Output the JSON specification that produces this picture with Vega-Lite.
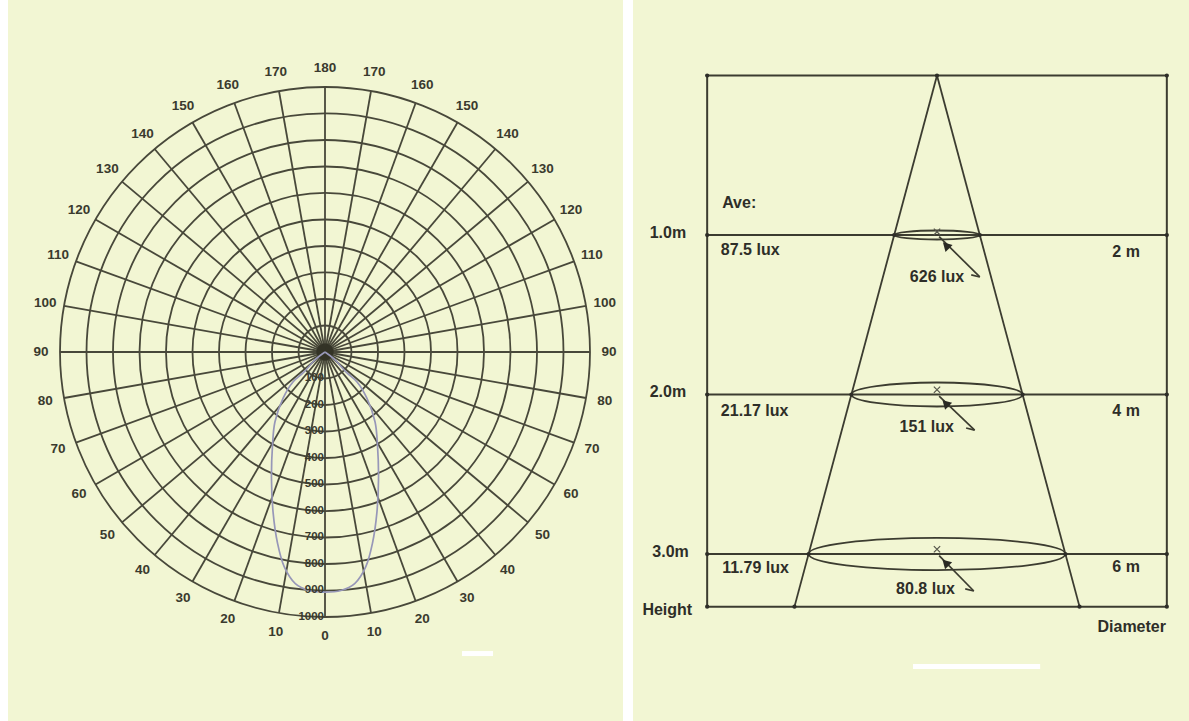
{
  "$schema": "https://vega.github.io/schema/vega-lite/v6.json",
  "background": "#ffffff",
  "padding": {"left": 8, "top": 0, "right": 0, "bottom": 0},
  "spacing": 10,
  "config": {
    "view": {"stroke": null, "fill": "#f2f6d3"},
    "text": {"font": "Liberation Sans", "fontWeight": "bold", "fill": "#2e2e28"}
  },
  "datasets": {
    "spokes": [
      {"angle": 0}, {"angle": 10}, {"angle": 20}, {"angle": 30}, {"angle": 40}, {"angle": 50},
      {"angle": 60}, {"angle": 70}, {"angle": 80}, {"angle": 90}, {"angle": 100}, {"angle": 110},
      {"angle": 120}, {"angle": 130}, {"angle": 140}, {"angle": 150}, {"angle": 160}, {"angle": 170},
      {"angle": 180}, {"angle": 190}, {"angle": 200}, {"angle": 210}, {"angle": 220}, {"angle": 230},
      {"angle": 240}, {"angle": 250}, {"angle": 260}, {"angle": 270}, {"angle": 280}, {"angle": 290},
      {"angle": 300}, {"angle": 310}, {"angle": 320}, {"angle": 330}, {"angle": 340}, {"angle": 350}
    ],
    "rings": [
      {"r": 100, "label": "100"}, {"r": 200, "label": "200"}, {"r": 300, "label": "300"},
      {"r": 400, "label": "400"}, {"r": 500, "label": "500"}, {"r": 600, "label": "600"},
      {"r": 700, "label": "700"}, {"r": 800, "label": "800"}, {"r": 900, "label": "900"},
      {"r": 1000, "label": "1000"}
    ],
    "angles": [
      {"angle": 0, "label": "180"}, {"angle": 10, "label": "170"}, {"angle": 20, "label": "160"},
      {"angle": 30, "label": "150"}, {"angle": 40, "label": "140"}, {"angle": 50, "label": "130"},
      {"angle": 60, "label": "120"}, {"angle": 70, "label": "110"}, {"angle": 80, "label": "100"},
      {"angle": 90, "label": "90"}, {"angle": 100, "label": "80"}, {"angle": 110, "label": "70"},
      {"angle": 120, "label": "60"}, {"angle": 130, "label": "50"}, {"angle": 140, "label": "40"},
      {"angle": 150, "label": "30"}, {"angle": 160, "label": "20"}, {"angle": 170, "label": "10"},
      {"angle": 180, "label": "0"}, {"angle": 190, "label": "10"}, {"angle": 200, "label": "20"},
      {"angle": 210, "label": "30"}, {"angle": 220, "label": "40"}, {"angle": 230, "label": "50"},
      {"angle": 240, "label": "60"}, {"angle": 250, "label": "70"}, {"angle": 260, "label": "80"},
      {"angle": 270, "label": "90"}, {"angle": 280, "label": "100"}, {"angle": 290, "label": "110"},
      {"angle": 300, "label": "120"}, {"angle": 310, "label": "130"}, {"angle": 320, "label": "140"},
      {"angle": 330, "label": "150"}, {"angle": 340, "label": "160"}, {"angle": 350, "label": "170"}
    ],
    "curve": [
      {"seq": 1, "cx": 0, "cy": 0}, {"seq": 2, "cx": 34, "cy": -26}, {"seq": 3, "cx": 83, "cy": -79},
      {"seq": 4, "cx": 121, "cy": -113}, {"seq": 5, "cx": 158, "cy": -174}, {"seq": 6, "cx": 189, "cy": -264},
      {"seq": 7, "cx": 198, "cy": -351}, {"seq": 8, "cx": 202, "cy": -476}, {"seq": 9, "cx": 196, "cy": -604},
      {"seq": 10, "cx": 179, "cy": -722}, {"seq": 11, "cx": 154, "cy": -810}, {"seq": 12, "cx": 112, "cy": -874},
      {"seq": 13, "cx": 60, "cy": -900}, {"seq": 14, "cx": 0, "cy": -906}, {"seq": 15, "cx": -60, "cy": -900},
      {"seq": 16, "cx": -112, "cy": -874}, {"seq": 17, "cx": -154, "cy": -810}, {"seq": 18, "cx": -179, "cy": -722},
      {"seq": 19, "cx": -196, "cy": -604}, {"seq": 20, "cx": -202, "cy": -476}, {"seq": 21, "cx": -198, "cy": -351},
      {"seq": 22, "cx": -189, "cy": -264}, {"seq": 23, "cx": -158, "cy": -174}, {"seq": 24, "cx": -121, "cy": -113},
      {"seq": 25, "cx": -83, "cy": -79}, {"seq": 26, "cx": -34, "cy": -26}, {"seq": 27, "cx": 0, "cy": 0}
    ],
    "frame": [
      {"x": -5.37, "y": 0, "x2": 5.37, "y2": 0},
      {"x": -5.37, "y": 1, "x2": 5.37, "y2": 1},
      {"x": -5.37, "y": 2, "x2": 5.37, "y2": 2},
      {"x": -5.37, "y": 3, "x2": 5.37, "y2": 3},
      {"x": -5.37, "y": 3.33, "x2": 5.37, "y2": 3.33},
      {"x": -5.37, "y": 0, "x2": -5.37, "y2": 3.33},
      {"x": 5.37, "y": 0, "x2": 5.37, "y2": 3.33}
    ],
    "cone": [
      {"x": 0, "y": 0, "x2": -3.33, "y2": 3.33},
      {"x": 0, "y": 0, "x2": 3.33, "y2": 3.33}
    ],
    "dots": [
      {"x": -5.37, "y": 0}, {"x": 5.37, "y": 0}, {"x": 0, "y": 0},
      {"x": -5.37, "y": 1}, {"x": 5.37, "y": 1}, {"x": -1, "y": 1}, {"x": 1, "y": 1},
      {"x": -5.37, "y": 2}, {"x": 5.37, "y": 2}, {"x": -2, "y": 2}, {"x": 2, "y": 2},
      {"x": -5.37, "y": 3}, {"x": 5.37, "y": 3}, {"x": -3, "y": 3}, {"x": 3, "y": 3},
      {"x": -5.37, "y": 3.33}, {"x": 5.37, "y": 3.33}, {"x": -3.33, "y": 3.33}, {"x": 3.33, "y": 3.33}
    ],
    "levels": [
      {"level": "1.0m", "centre": 0, "depth": 1, "diam": 2, "mark": 0.98, "hx": 0.21, "hy": 1.065},
      {"level": "2.0m", "centre": 0, "depth": 2, "diam": 4, "mark": 1.97, "hx": 0.2, "hy": 2.055},
      {"level": "3.0m", "centre": 0, "depth": 3, "diam": 6, "mark": 2.97, "hx": 0.2, "hy": 3.055}
    ],
    "arrows": [
      {"x": 0.05, "y": 1.01, "x2": 1.0, "y2": 1.263},
      {"x": 0.8, "y": 1.25, "x2": 1.0, "y2": 1.263},
      {"x": 0.05, "y": 2.01, "x2": 0.88, "y2": 2.223},
      {"x": 0.68, "y": 2.21, "x2": 0.88, "y2": 2.223},
      {"x": 0.05, "y": 3.01, "x2": 0.86, "y2": 3.232},
      {"x": 0.66, "y": 3.219, "x2": 0.86, "y2": 3.232}
    ],
    "labels": [
      {"text": "Ave:", "kind": "average", "x": -5.02, "y": 0.8},
      {"text": "87.5 lux", "kind": "average", "x": -5.05, "y": 1.094},
      {"text": "21.17 lux", "kind": "average", "x": -5.05, "y": 2.103},
      {"text": "11.79 lux", "kind": "average", "x": -5.02, "y": 3.088},
      {"text": "1.0m", "kind": "axis", "x": -5.86, "y": 0.987},
      {"text": "2.0m", "kind": "axis", "x": -5.86, "y": 1.984},
      {"text": "3.0m", "kind": "axis", "x": -5.8, "y": 2.987},
      {"text": "Height", "kind": "axis", "x": -5.72, "y": 3.351},
      {"text": "2 m", "kind": "axis", "x": 4.74, "y": 1.107},
      {"text": "4 m", "kind": "axis", "x": 4.74, "y": 2.103},
      {"text": "6 m", "kind": "axis", "x": 4.74, "y": 3.08},
      {"text": "Diameter", "kind": "axis", "x": 5.35, "y": 3.458},
      {"text": "626 lux", "kind": "centre", "x": 0.0, "y": 1.263},
      {"text": "151 lux", "kind": "centre", "x": -0.24, "y": 2.204},
      {"text": "80.8 lux", "kind": "centre", "x": -0.27, "y": 3.219}
    ]
  },
  "hconcat": [
    {
      "width": 615,
      "height": 721,
      "layer": [
        {
          "data": {"name": "rings"},
          "mark": {"type": "point", "shape": "circle", "filled": false, "stroke": "#48483a", "strokeWidth": 1.8, "opacity": 1},
          "encoding": {
            "x": {"datum": 0, "type": "quantitative", "scale": {"domain": [-1196.2, 1124.5], "nice": false, "zero": false}, "axis": null},
            "y": {"datum": 0, "type": "quantitative", "scale": {"domain": [-1392.5, 1328.3], "nice": false, "zero": false}, "axis": null},
            "size": {"field": "r", "type": "quantitative", "scale": {"type": "pow", "exponent": 2, "domain": [0, 1000], "range": [0, 280900]}, "legend": null}
          }
        },
        {
          "data": {"name": "spokes"},
          "mark": {"type": "point", "shape": "M0,0L0,-1", "size": 280900, "filled": false, "stroke": "#48483a", "strokeWidth": 1.8, "opacity": 1},
          "encoding": {
            "x": {"datum": 0, "type": "quantitative", "scale": {"domain": [-1196.2, 1124.5], "nice": false, "zero": false}, "axis": null},
            "y": {"datum": 0, "type": "quantitative", "scale": {"domain": [-1392.5, 1328.3], "nice": false, "zero": false}, "axis": null},
            "angle": {"field": "angle", "type": "quantitative", "scale": {"domain": [0, 360], "range": [0, 360]}, "legend": null}
          }
        },
        {
          "data": {"values": [{"cx": 0, "cy": 0}]},
          "mark": {"type": "point", "shape": "circle", "filled": true, "size": 300, "fill": "#2c2c20", "opacity": 0.75},
          "encoding": {
            "x": {"field": "cx", "type": "quantitative", "scale": {"domain": [-1196.2, 1124.5], "nice": false, "zero": false}, "axis": null},
            "y": {"field": "cy", "type": "quantitative", "scale": {"domain": [-1392.5, 1328.3], "nice": false, "zero": false}, "axis": null}
          }
        },
        {
          "data": {"name": "curve"},
          "mark": {"type": "line", "stroke": "#9797b8", "strokeWidth": 1.7, "interpolate": "catmull-rom"},
          "encoding": {
            "x": {"field": "cx", "type": "quantitative", "scale": {"domain": [-1196.2, 1124.5], "nice": false, "zero": false}, "axis": null},
            "y": {"field": "cy", "type": "quantitative", "scale": {"domain": [-1392.5, 1328.3], "nice": false, "zero": false}, "axis": null},
            "order": {"field": "seq", "type": "quantitative"}
          }
        },
        {
          "data": {"name": "rings"},
          "mark": {"type": "text", "align": "right", "baseline": "middle", "dx": -1, "fontSize": 11.5, "fill": "#3a3a2e"},
          "encoding": {
            "x": {"datum": 0, "type": "quantitative", "scale": {"domain": [-1196.2, 1124.5], "nice": false, "zero": false}, "axis": null},
            "y": {"datum": 0, "type": "quantitative", "scale": {"domain": [-1392.5, 1328.3], "nice": false, "zero": false}, "axis": null},
            "theta": {"datum": 180, "type": "quantitative", "stack": null, "scale": {"type": "linear", "domain": [0, 360], "range": [0, 6.283185307179586]}},
            "radius": {"field": "r", "type": "quantitative", "scale": {"type": "linear", "domain": [0, 1000], "range": [0, 265], "zero": true}},
            "text": {"field": "label"}
          }
        },
        {
          "data": {"name": "angles"},
          "mark": {"type": "text", "align": "center", "baseline": "middle", "fontSize": 13.5, "fill": "#3a3a2e"},
          "encoding": {
            "x": {"datum": 0, "type": "quantitative", "scale": {"domain": [-1196.2, 1124.5], "nice": false, "zero": false}, "axis": null},
            "y": {"datum": 0, "type": "quantitative", "scale": {"domain": [-1392.5, 1328.3], "nice": false, "zero": false}, "axis": null},
            "theta": {"field": "angle", "type": "quantitative", "stack": null, "scale": {"type": "linear", "domain": [0, 360], "range": [0, 6.283185307179586]}},
            "radius": {"datum": 1072, "type": "quantitative", "scale": {"type": "linear", "domain": [0, 1000], "range": [0, 265], "zero": true}},
            "text": {"field": "label"}
          }
        },
        {
          "data": {"values": [{"from": 517, "to": 634, "at": -1138}]},
          "mark": {"type": "rule", "stroke": "#ffffff", "strokeWidth": 5},
          "encoding": {
            "x": {"field": "from", "type": "quantitative", "scale": {"domain": [-1196.2, 1124.5], "nice": false, "zero": false}, "axis": null},
            "x2": {"field": "to"},
            "y": {"field": "at", "type": "quantitative", "scale": {"domain": [-1392.5, 1328.3], "nice": false, "zero": false}, "axis": null}
          }
        }
      ]
    },
    {
      "width": 556,
      "height": 721,
      "layer": [
        {
          "data": {"name": "frame"},
          "mark": {"type": "rule", "stroke": "#3c3c30", "strokeWidth": 2},
          "encoding": {
            "x": {"field": "x", "type": "quantitative", "scale": {"domain": [-7.1028, 5.8879], "nice": false, "zero": false}, "axis": null},
            "y": {"field": "y", "type": "quantitative", "scale": {"domain": [-0.4734, 4.047], "nice": false, "zero": false, "reverse": true}, "axis": null},
            "x2": {"field": "x2"}, "y2": {"field": "y2"}
          }
        },
        {
          "data": {"name": "cone"},
          "mark": {"type": "rule", "stroke": "#3c3c30", "strokeWidth": 1.8},
          "encoding": {
            "x": {"field": "x", "type": "quantitative", "scale": {"domain": [-7.1028, 5.8879], "nice": false, "zero": false}, "axis": null},
            "y": {"field": "y", "type": "quantitative", "scale": {"domain": [-0.4734, 4.047], "nice": false, "zero": false, "reverse": true}, "axis": null},
            "x2": {"field": "x2"}, "y2": {"field": "y2"}
          }
        },
        {
          "data": {"name": "levels"},
          "transform": [{"filter": "datum.level === '1.0m'"}],
          "mark": {"type": "point", "filled": false, "size": 7327, "shape": "M-1,0C-1,-0.058,-0.552,-0.105,0,-0.105C0.552,-0.105,1,-0.058,1,0C1,0.058,0.552,0.105,0,0.105C-0.552,0.105,-1,0.058,-1,0Z", "stroke": "#3c3c30", "strokeWidth": 1.8, "opacity": 1},
          "encoding": {
            "x": {"field": "centre", "type": "quantitative", "scale": {"domain": [-7.1028, 5.8879], "nice": false, "zero": false}, "axis": null},
            "y": {"field": "depth", "type": "quantitative", "scale": {"domain": [-0.4734, 4.047], "nice": false, "zero": false, "reverse": true}, "axis": null}
          }
        },
        {
          "data": {"name": "levels"},
          "transform": [{"filter": "datum.level === '2.0m'"}],
          "mark": {"type": "point", "filled": false, "size": 29310, "shape": "M-1,0C-1,-0.077,-0.552,-0.14,0,-0.14C0.552,-0.14,1,-0.077,1,0C1,0.077,0.552,0.14,0,0.14C-0.552,0.14,-1,0.077,-1,0Z", "stroke": "#3c3c30", "strokeWidth": 1.8, "opacity": 1},
          "encoding": {
            "x": {"field": "centre", "type": "quantitative", "scale": {"domain": [-7.1028, 5.8879], "nice": false, "zero": false}, "axis": null},
            "y": {"field": "depth", "type": "quantitative", "scale": {"domain": [-0.4734, 4.047], "nice": false, "zero": false, "reverse": true}, "axis": null}
          }
        },
        {
          "data": {"name": "levels"},
          "transform": [{"filter": "datum.level === '3.0m'"}],
          "mark": {"type": "point", "filled": false, "size": 65946, "shape": "M-1,0C-1,-0.069,-0.552,-0.125,0,-0.125C0.552,-0.125,1,-0.069,1,0C1,0.069,0.552,0.125,0,0.125C-0.552,0.125,-1,0.069,-1,0Z", "stroke": "#3c3c30", "strokeWidth": 1.8, "opacity": 1},
          "encoding": {
            "x": {"field": "centre", "type": "quantitative", "scale": {"domain": [-7.1028, 5.8879], "nice": false, "zero": false}, "axis": null},
            "y": {"field": "depth", "type": "quantitative", "scale": {"domain": [-0.4734, 4.047], "nice": false, "zero": false, "reverse": true}, "axis": null}
          }
        },
        {
          "data": {"name": "levels"},
          "mark": {"type": "point", "filled": false, "shape": "M-1,-1L1,1M-1,1L1,-1", "size": 40, "stroke": "#55554a", "strokeWidth": 1.2, "opacity": 1},
          "encoding": {
            "x": {"field": "centre", "type": "quantitative", "scale": {"domain": [-7.1028, 5.8879], "nice": false, "zero": false}, "axis": null},
            "y": {"field": "mark", "type": "quantitative", "scale": {"domain": [-0.4734, 4.047], "nice": false, "zero": false, "reverse": true}, "axis": null}
          }
        },
        {
          "data": {"name": "arrows"},
          "mark": {"type": "rule", "stroke": "#3c3c30", "strokeWidth": 1.7},
          "encoding": {
            "x": {"field": "x", "type": "quantitative", "scale": {"domain": [-7.1028, 5.8879], "nice": false, "zero": false}, "axis": null},
            "y": {"field": "y", "type": "quantitative", "scale": {"domain": [-0.4734, 4.047], "nice": false, "zero": false, "reverse": true}, "axis": null},
            "x2": {"field": "x2"}, "y2": {"field": "y2"}
          }
        },
        {
          "data": {"name": "levels"},
          "mark": {"type": "point", "filled": true, "shape": "triangle-up", "size": 100, "angle": 315, "fill": "#2a2a24", "opacity": 1},
          "encoding": {
            "x": {"field": "hx", "type": "quantitative", "scale": {"domain": [-7.1028, 5.8879], "nice": false, "zero": false}, "axis": null},
            "y": {"field": "hy", "type": "quantitative", "scale": {"domain": [-0.4734, 4.047], "nice": false, "zero": false, "reverse": true}, "axis": null}
          }
        },
        {
          "data": {"name": "dots"},
          "mark": {"type": "point", "filled": true, "shape": "circle", "size": 18, "fill": "#2e2e28", "opacity": 1},
          "encoding": {
            "x": {"field": "x", "type": "quantitative", "scale": {"domain": [-7.1028, 5.8879], "nice": false, "zero": false}, "axis": null},
            "y": {"field": "y", "type": "quantitative", "scale": {"domain": [-0.4734, 4.047], "nice": false, "zero": false, "reverse": true}, "axis": null}
          }
        },
        {
          "data": {"name": "labels"},
          "transform": [{"filter": "datum.kind === 'average'"}],
          "mark": {"type": "text", "align": "left", "baseline": "middle", "fontSize": 16},
          "encoding": {
            "x": {"field": "x", "type": "quantitative", "scale": {"domain": [-7.1028, 5.8879], "nice": false, "zero": false}, "axis": null},
            "y": {"field": "y", "type": "quantitative", "scale": {"domain": [-0.4734, 4.047], "nice": false, "zero": false, "reverse": true}, "axis": null},
            "text": {"field": "text"}
          }
        },
        {
          "data": {"name": "labels"},
          "transform": [{"filter": "datum.kind === 'axis'"}],
          "mark": {"type": "text", "align": "right", "baseline": "middle", "fontSize": 16},
          "encoding": {
            "x": {"field": "x", "type": "quantitative", "scale": {"domain": [-7.1028, 5.8879], "nice": false, "zero": false}, "axis": null},
            "y": {"field": "y", "type": "quantitative", "scale": {"domain": [-0.4734, 4.047], "nice": false, "zero": false, "reverse": true}, "axis": null},
            "text": {"field": "text"}
          }
        },
        {
          "data": {"name": "labels"},
          "transform": [{"filter": "datum.kind === 'centre'"}],
          "mark": {"type": "text", "align": "center", "baseline": "middle", "fontSize": 16},
          "encoding": {
            "x": {"field": "x", "type": "quantitative", "scale": {"domain": [-7.1028, 5.8879], "nice": false, "zero": false}, "axis": null},
            "y": {"field": "y", "type": "quantitative", "scale": {"domain": [-0.4734, 4.047], "nice": false, "zero": false, "reverse": true}, "axis": null},
            "text": {"field": "text"}
          }
        },
        {
          "data": {"values": [{"x": -0.56, "x2": 2.41, "y": 3.705}]},
          "mark": {"type": "rule", "stroke": "#ffffff", "strokeWidth": 5},
          "encoding": {
            "x": {"field": "x", "type": "quantitative", "scale": {"domain": [-7.1028, 5.8879], "nice": false, "zero": false}, "axis": null},
            "y": {"field": "y", "type": "quantitative", "scale": {"domain": [-0.4734, 4.047], "nice": false, "zero": false, "reverse": true}, "axis": null},
            "x2": {"field": "x2"}
          }
        }
      ]
    }
  ]
}
